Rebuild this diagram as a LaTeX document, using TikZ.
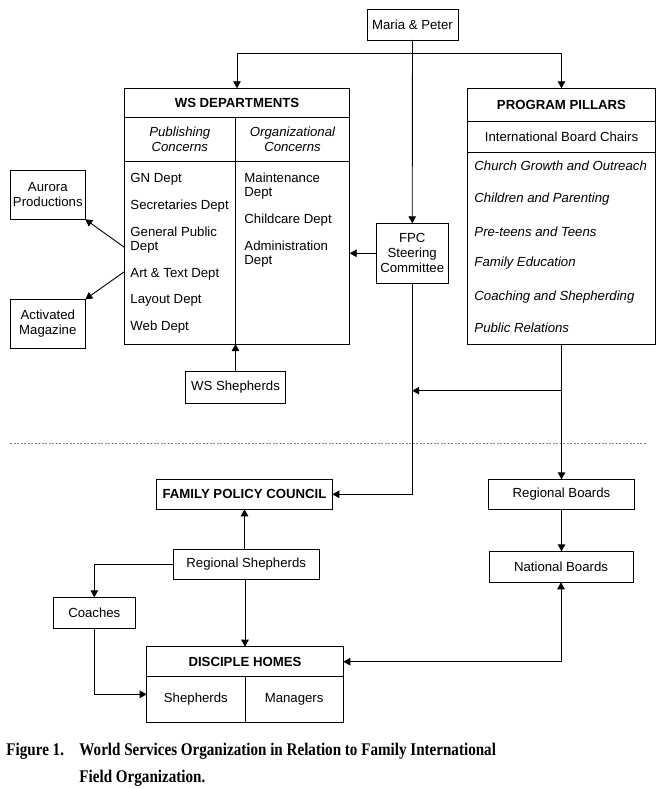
\documentclass[tikz,border=0pt]{standalone}
\usepackage{fontspec}
\setmainfont{Liberation Sans}
\newfontfamily\capfont{Liberation Serif}
\usetikzlibrary{arrows.meta}

\begin{document}
\begin{tikzpicture}[x=1pt, y=-1pt, line width=0.9pt,
  box/.style={draw, inner sep=2pt, outer sep=0pt, align=center, font=\fontsize{13.2}{15}\selectfont},
  title/.style={box, font=\fontsize{13.2}{15}\selectfont\bfseries},
  ibox/.style={box, font=\fontsize{13.2}{15}\selectfont\itshape},
  item/.style={anchor=west, inner sep=0pt, align=left, font=\fontsize{13.2}{14}\selectfont},
  iitem/.style={item, font=\fontsize{13.2}{14}\selectfont\itshape},
  capt/.style={anchor=base west, inner sep=0pt, font=\capfont\bfseries\fontsize{15.1}{18}\selectfont},
  arr/.style={-{Triangle[length=7pt,width=7.5pt]}},
  arrs/.style={{Triangle[length=7pt,width=7.5pt]}-{Triangle[length=7pt,width=7.5pt]}}]
  \useasboundingbox (0,0) rectangle (664,789);

  % upper part: World Services
  \node[box, minimum width=91pt, minimum height=31pt] (mp) at (412.5,24.5) {Maria \& Peter};

  \node[title, minimum width=225.4pt, minimum height=29pt] (wst) at (237,102.8) {WS DEPARTMENTS};
  \node[ibox, anchor=north west, minimum width=111pt, minimum height=44.4pt] (wsp) at (wst.south west) {Publishing\\Concerns};
  \node[ibox, anchor=north west, minimum width=114.4pt, minimum height=44.4pt] (wso) at (wsp.north east) {Organizational\\Concerns};
  \node[box, anchor=north west, minimum width=111pt, minimum height=182.3pt] (wsl) at (wsp.south west) {};
  \node[box, anchor=north west, minimum width=114.4pt, minimum height=182.3pt] (wsr) at (wso.south west) {};
  \foreach \t/\y [count=\i] in {GN Dept/179, Secretaries Dept/206, General Public\\Dept/240.3,
      Art \& Text Dept/274, Layout Dept/300.7, Web Dept/327.4}
    \node[item] (pub\i) at (130,\y) {\t};
  \foreach \t/\y [count=\i] in {Maintenance\\Dept/186, Childcare Dept/220, Administration\\Dept/254}
    \node[item] (org\i) at (244,\y) {\t};

  \node[title, minimum width=187.6pt, minimum height=33.4pt] (ppt) at (561.5,105) {PROGRAM PILLARS};
  \node[box, anchor=north west, minimum width=187.6pt, minimum height=30.6pt] (ppc) at (ppt.south west) {International Board Chairs};
  \node[box, anchor=north west, minimum width=187.6pt, minimum height=192pt] (ppl) at (ppc.south west) {};
  \foreach \t/\y [count=\i] in {Church Growth and Outreach/165.5, Children and Parenting/199.3,
      Pre-teens and Teens/231.3, Family Education/263.3, Coaching and Shepherding/296.6, Public Relations/327.6}
    \node[iitem] (pil\i) at (474,\y) {\t};

  \node[box, minimum width=72.3pt, minimum height=60pt] (fpc) at (412.2,253.3) {FPC\\Steering\\Committee};
  \node[box, minimum width=75pt, minimum height=49pt] (aur) at (47.8,194.8) {Aurora\\Productions};
  \node[box, minimum width=75pt, minimum height=49pt] (act) at (47.8,323.8) {Activated\\Magazine};
  \node[box, minimum width=100.7pt, minimum height=32.3pt] (wss) at (235.5,387.2) {WS Shepherds};

  \draw[gray, line width=0.8pt, dash pattern=on 2pt off 1.5pt] (10,443.5) -- (647,443.5);

  % lower part: field
  \node[title, minimum width=175.6pt, minimum height=30pt] (fpcl) at (244.5,494.3) {FAMILY POLICY COUNCIL};
  \node[box, minimum width=145.7pt, minimum height=30.3pt] (rs) at (246.2,564.2) {Regional Shepherds};
  \node[box, minimum width=82pt, minimum height=31pt] (coa) at (94.3,612.8) {Coaches};
  \node[title, minimum width=196.6pt, minimum height=30pt] (dh) at (245,661.7) {DISCIPLE HOMES};
  \node[box, anchor=north west, minimum width=98.3pt, minimum height=45.6pt] (shep) at (dh.south west) {Shepherds};
  \node[box, anchor=north west, minimum width=98.3pt, minimum height=45.6pt] (mgr) at (shep.north east) {Managers};
  \node[box, minimum width=146pt, minimum height=30pt] (rb) at (561.5,494.3) {Regional Boards};
  \node[box, minimum width=144pt, minimum height=31pt] (nb) at (561,566.8) {National Boards};

  \coordinate (top) at (mp.south |- 0,53);
  \coordinate (pj) at (ppl.south |- 0,390.7);
  \draw[arr] (mp.south) -- (fpc.north);
  \draw[arr] (top) -| (wst.north);
  \draw[arr] (top) -| (ppt.north);
  \draw[arr] (fpc.west) -- (fpc.west -| wsr.east);
  \draw[arr] (wss.north) -- (wss.north |- wsl.south);
  \draw[arr] (wsl.west |- 0,247.3) -- (aur.south east);
  \draw[arr] (wsl.west |- 0,271.7) -- (act.north east);
  \draw[arr] (fpc.south) |- (fpcl.east);
  \draw[arr] (ppl.south) -- (ppl.south |- rb.north);
  \draw[arr] (pj) -- (pj -| fpc.south);
  \draw[arr] (rb.south) -- (rb.south |- nb.north);
  \draw[arrs] (nb.south) |- (dh.east);
  \draw[arr] (rs.north -| fpcl.south) -- (fpcl.south);
  \draw[arr] (rs.west) -| (coa.north);
  \draw[arr] (rs.south -| dh.north) -- (dh.north);
  \draw[arr] (coa.south) |- (shep.west |- 0,694.3);

  % caption
  \node[capt] (fig) at (6,755) {\scalebox{1}[1.18]{Figure 1.}};
  \node[capt] (cap1) at (79,755) {\scalebox{1}[1.18]{World Services Organization in Relation to Family International}};
  \node[capt] (cap2) at (79,782.7) {\scalebox{1}[1.18]{Field Organization.}};
\end{tikzpicture}
\end{document}
